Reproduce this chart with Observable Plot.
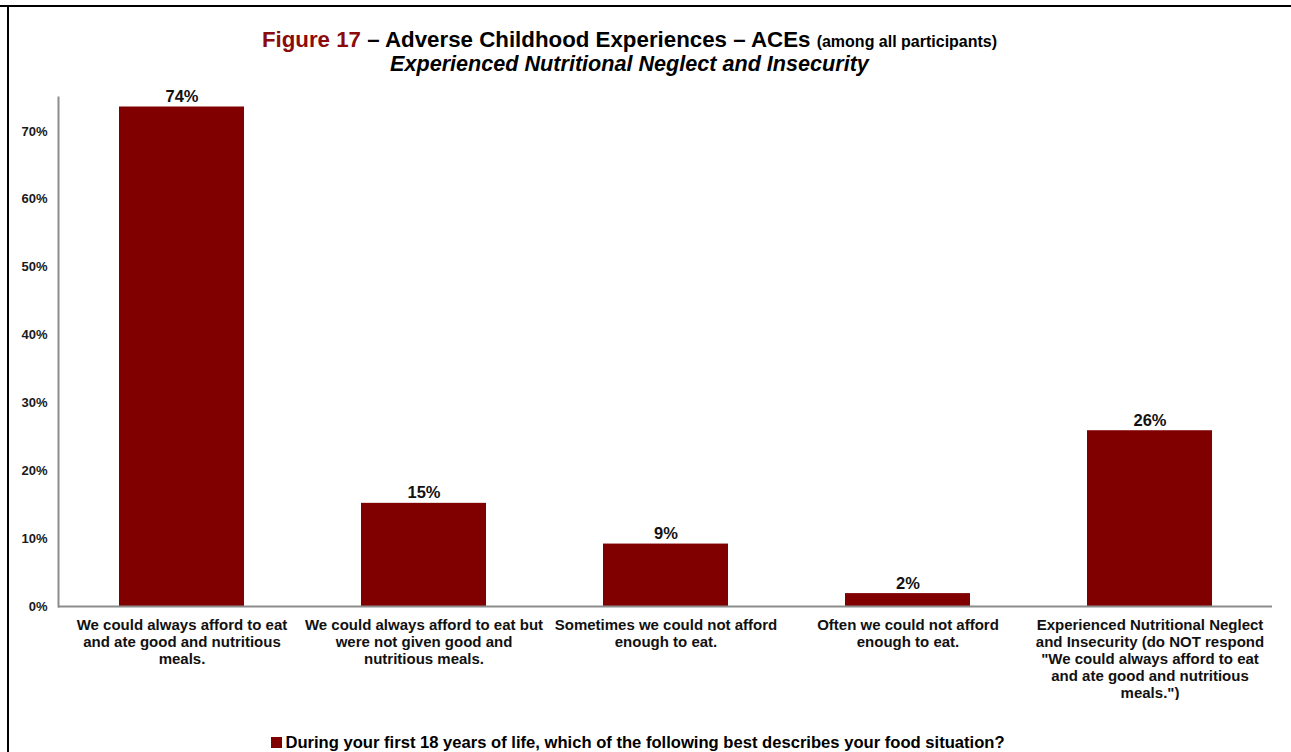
<!DOCTYPE html>
<html>
<head>
<meta charset="utf-8">
<script src="https://cdn.jsdelivr.net/npm/d3@7"></script>
<script src="https://cdn.jsdelivr.net/npm/@observablehq/plot@0.6"></script>
<style>
  html, body { margin: 0; padding: 0; background: #fff; overflow: hidden; }
  #page { position: relative; width: 1291px; height: 752px; background: #fff; overflow: hidden; font-family: "Liberation Sans", Arial, sans-serif; }
  .abs { position: absolute; }
  #title { left: 0; top: 27px; width: 1259px; text-align: center; font-weight: bold; font-size: 22.3px; line-height: 25px; color: #000; white-space: nowrap; }
  #title .fig { color: #8b0a0a; }
  #title .small { font-size: 16px; }
  #subtitle { left: 0; top: 52px; width: 1259px; text-align: center; font-weight: bold; font-style: italic; font-size: 21.6px; line-height: 24px; color: #000; white-space: nowrap; }
  #chart { left: 0; top: 80px; }
  #legend { left: 0; top: 733px; width: 1276px; text-align: center; font-weight: bold; font-size: 16.6px; line-height: 19px; color: #000; white-space: nowrap; }
  #legend .sw { display: inline-block; width: 11px; height: 11px; background: #800000; margin-right: 3px; vertical-align: 0px; }
</style>
</head>
<body>
<div id="page">
  <div class="abs" style="left:0;top:5px;width:1291px;height:2px;background:#000"></div>
  <div class="abs" style="left:7px;top:5px;width:2px;height:747px;background:#000"></div>
  <div id="title" class="abs"><span class="fig">Figure 17</span> – Adverse Childhood Experiences – ACEs <span class="small">(among all participants)</span></div>
  <div id="subtitle" class="abs">Experienced Nutritional Neglect and Insecurity</div>
  <div id="chart" class="abs"></div>
  <div id="legend" class="abs"><span class="sw"></span>During your first 18 years of life, which of the following best describes your food situation?</div>
</div>
<script>
const categories = [
  "We could always afford to eat and ate good and nutritious meals.",
  "We could always afford to eat but were not given good and nutritious meals.",
  "Sometimes we could not afford enough to eat.",
  "Often we could not afford enough to eat.",
  "Experienced Nutritional Neglect and Insecurity (do NOT respond \"We could always afford to eat and ate good and nutritious meals.\")"
];
const tickLabels = [
  "We could always afford to eat\nand ate good and nutritious\nmeals.",
  "We could always afford to eat but\nwere not given good and\nnutritious meals.",
  "Sometimes we could not afford\nenough to eat.",
  "Often we could not afford\nenough to eat.",
  "Experienced Nutritional Neglect\nand Insecurity (do NOT respond\n\"We could always afford to eat\nand ate good and nutritious\nmeals.\")"
];
const values = [73.6, 15.2, 9.2, 1.9, 25.9];
const yTicks = [0, 10, 20, 30, 40, 50, 60, 70];

const data = categories.map((c, i) => ({cat: c, value: values[i]}));

const chart = Plot.plot({
  width: 1291,
  height: 620,
  marginTop: 17,
  marginBottom: 94,
  marginLeft: 58,
  marginRight: 19,
  style: {fontFamily: "Liberation Sans, Arial, sans-serif", background: "transparent", color: "#000"},
  x: {domain: categories, paddingInner: 0.485, paddingOuter: 0.2425, label: null},
  y: {domain: [0, 75], label: null},
  marks: [
    Plot.barY(data, {x: "cat", y: "value", fill: "#800000"}),
    Plot.frame({anchor: "left", stroke: "#8c8c8c", strokeWidth: 2}),
    Plot.ruleY([0], {stroke: "#8c8c8c", strokeWidth: 2}),
    Plot.axisY({ticks: yTicks, tickSize: 0, tickPadding: 11, tickFormat: d => d + "%", fontWeight: "bold", fontSize: 13, fill: "#1a1a1a", label: null}),
    Plot.axisX({tickSize: 0, tickPadding: 11, tickFormat: d => tickLabels[categories.indexOf(d)], fontWeight: "bold", fontSize: 15, lineHeight: 1.14, fill: "#111", label: null, textOverflow: null, lineWidth: Infinity}),
    Plot.text(data, {x: "cat", y: "value", text: d => Math.round(d.value) + "%", dy: -5, lineAnchor: "bottom", fontWeight: "bold", fontSize: 16.5, fill: "#111"})
  ]
});
chart.querySelectorAll('g[aria-label*="y-axis"] text').forEach(t => { t.style.fontSize = "13px"; t.style.fontWeight = "bold"; });
document.getElementById("chart").appendChild(chart);
</script>
</body>
</html>
